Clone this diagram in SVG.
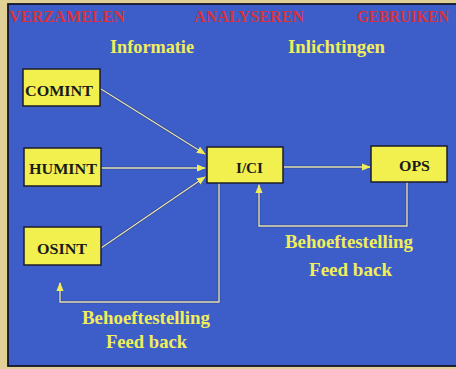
<svg xmlns="http://www.w3.org/2000/svg" width="456" height="369" viewBox="0 0 456 369">
<defs>
<style>
.hdr{font-family:"Liberation Serif",serif;font-weight:bold;font-size:16px;fill:#d6323e}
.ylw{font-family:"Liberation Serif",serif;font-weight:bold;font-size:19px;fill:#f2ee58}
.box{fill:#f2f04e;stroke:#1c1c2a;stroke-width:1.5}
.lbl{font-family:"Liberation Serif",serif;font-weight:bold;font-size:15px;fill:#1a1a1a}
.ln{fill:none;stroke:#e6e2b8;stroke-width:1.4}
.sh{fill:none;stroke:#1e2a5a;stroke-width:2.6;opacity:0.55}
</style>
<marker id="ah" viewBox="0 0 10 10" refX="9" refY="5" markerWidth="9" markerHeight="9" markerUnits="userSpaceOnUse" orient="auto">
<path d="M0,1 L10,5 L0,9 Z" fill="#f2ee58"/>
</marker>
</defs>
<rect x="0" y="0" width="456" height="369" fill="#e2d197"/>
<rect x="8" y="4" width="450" height="362" fill="#3d5ec8" stroke="#15152a" stroke-width="1.8"/>
<g id="headers">
<text class="hdr" x="9" y="22" textLength="116" lengthAdjust="spacingAndGlyphs">VERZAMELEN</text>
<text class="hdr" x="194" y="22" textLength="110" lengthAdjust="spacingAndGlyphs">ANALYSEREN</text>
<text class="hdr" x="357" y="22" textLength="92" lengthAdjust="spacingAndGlyphs">GEBRUIKEN</text>
<text class="ylw" x="110" y="53" textLength="84" lengthAdjust="spacingAndGlyphs">Informatie</text>
<text class="ylw" x="288" y="53" textLength="97" lengthAdjust="spacingAndGlyphs">Inlichtingen</text>
</g>
<g id="connectors">
<path class="sh" d="M101,89 L205,154 M101,168 L205,168 M101,248 L205,177 M284,167 L370,167 M407,182 L407,226 L259,226 L259,186 M219,183 L219,302 L60,302 L60,285"/>
<path class="ln" d="M101,89 L205,154" marker-end="url(#ah)"/>
<path class="ln" d="M101,168 L205,168" marker-end="url(#ah)"/>
<path class="ln" d="M101,248 L205,177" marker-end="url(#ah)"/>
<path class="ln" d="M284,167 L370,167" marker-end="url(#ah)"/>
<path class="ln" d="M407,182 L407,226 L259,226 L259,185" marker-end="url(#ah)"/>
<path class="ln" d="M219,183 L219,302 L60,302 L60,283" marker-end="url(#ah)"/>
</g>
<g id="COMINT">
<rect class="box" x="23" y="69" width="77" height="37"/>
<text class="lbl" x="25" y="96" textLength="68" lengthAdjust="spacingAndGlyphs">COMINT</text>
</g>
<g id="HUMINT">
<rect class="box" x="24" y="148" width="77" height="38"/>
<text class="lbl" x="29" y="174" textLength="68" lengthAdjust="spacingAndGlyphs">HUMINT</text>
</g>
<g id="OSINT">
<rect class="box" x="24" y="227" width="77" height="38"/>
<text class="lbl" x="37" y="254" textLength="50" lengthAdjust="spacingAndGlyphs">OSINT</text>
</g>
<g id="ICI">
<rect class="box" x="207" y="147" width="76" height="36"/>
<text class="lbl" x="236" y="173" textLength="27" lengthAdjust="spacingAndGlyphs">I/CI</text>
</g>
<g id="OPS">
<rect class="box" x="371" y="146" width="76" height="36"/>
<text class="lbl" x="399" y="171" textLength="31" lengthAdjust="spacingAndGlyphs">OPS</text>
</g>
<g id="feedback-labels">
<text class="ylw" x="285" y="248" textLength="128" lengthAdjust="spacingAndGlyphs">Behoeftestelling</text>
<text class="ylw" x="309" y="276" textLength="83" lengthAdjust="spacingAndGlyphs">Feed back</text>
<text class="ylw" x="82" y="324" textLength="128" lengthAdjust="spacingAndGlyphs">Behoeftestelling</text>
<text class="ylw" x="106" y="348" textLength="81" lengthAdjust="spacingAndGlyphs">Feed back</text>
</g>
</svg>
